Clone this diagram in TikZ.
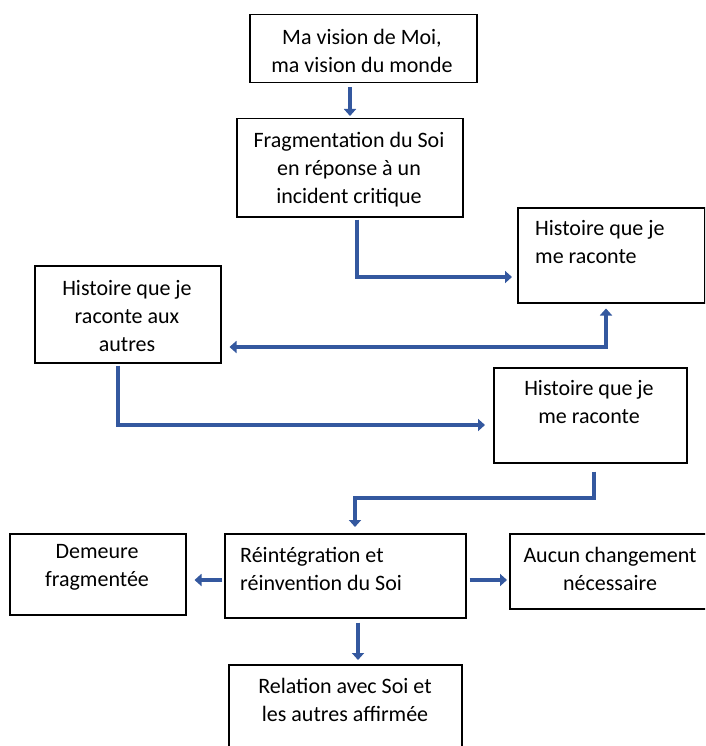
\documentclass[tikz,border=0pt]{standalone}
\usepackage{fontspec}
\setmainfont{Carlito}
\usetikzlibrary{arrows.meta}
\definecolor{arrowblue}{HTML}{34589F}
\tikzset{
  box/.style={draw=black, line width=1.5pt, fill=white, inner sep=0pt, anchor=north west},
  txt/.style={inner sep=0pt, font=\fontsize{22}{28}\selectfont},
  arr/.style={draw=arrowblue, line width=4.5pt, line join=miter, -{Triangle[length=7pt,width=12pt]}},
}
\begin{document}
\begin{tikzpicture}[x=1pt,y=-1pt]
\useasboundingbox (0,0) rectangle (705,746);
\fill[white] (0,0) rectangle (705,746);
\clip (0,0) rectangle (705,746);
% boxes
\node[box, minimum width=227pt, minimum height=68pt] (b1) at (249,14) {};
\node[box, minimum width=226pt, minimum height=98pt] (b2) at (236,118) {};
\node[box, minimum width=187pt, minimum height=95pt] (b3) at (517,207) {};
\node[box, minimum width=186pt, minimum height=97pt] (b4) at (34,265) {};
\node[box, minimum width=193pt, minimum height=95pt] (b5) at (493,367) {};
\node[box, minimum width=176pt, minimum height=81pt] (b6) at (9,533) {};
\node[box, minimum width=241pt, minimum height=84pt] (b7) at (224,533) {};
\node[box, minimum width=210pt, minimum height=75pt] (b8) at (509,533) {};
\node[box, minimum width=233pt, minimum height=100pt] (b9) at (228,664) {};
% texts
\node[txt, align=center] (t1) at (362,51) {Ma vision de Moi,\\ma vision du monde};
\node[txt, align=center] (t2) at (349,170) {Fragmentation du Soi\\en réponse à un\\incident critique};
\node[txt, align=left, anchor=west] (t3) at (535,242) {Histoire que je\\me raconte};
\node[txt, align=center] (t4) at (127,316) {Histoire que je\\raconte aux\\autres};
\node[txt, align=center] (t5) at (589,402) {Histoire que je\\me raconte};
\node[txt, align=center] (t6) at (97,567) {Demeure\\fragmentée};
\node[txt, align=left, anchor=west] (t7) at (240,569) {Réintégration et\\réinvention du Soi};
\node[txt, align=center] (t8) at (610,569) {Aucun changement\\nécessaire};
\node[txt, align=center] (t9) at (345,700) {Relation avec Soi et\\les autres affirmée};
% connector points
\coordinate (c2) at (357,277);
\coordinate (c3) at (606,347);
\coordinate (c4) at (118,425);
\coordinate (c5a) at (594,498);
\coordinate (c5b) at (355,498);
% connectors
\draw[arr] ([yshift=-4pt]b1.south -| 350,0) -- ([yshift=2pt]b2.north -| 350,0);
\draw[arr] ([yshift=-2pt]b2.south -| c2) -- (c2) -- ([xshift=-5pt]c2 -| b3.west);
\draw[arr, {Triangle[length=7pt,width=12pt]}-{Triangle[length=7pt,width=12pt]}] ([yshift=-5pt]b3.south -| c3) -- (c3) -- ([xshift=8pt]c3 -| b4.east);
\draw[arr] ([yshift=-2pt]b4.south -| c4) -- (c4) -- ([xshift=-8pt]c4 -| b5.west);
\draw[arr] ([yshift=-8pt]b5.south -| c5a) -- (c5a) -- (c5b) -- ([yshift=6pt]b7.north -| c5b);
\draw[arr] ([xshift=-2pt]b7.west |- 0,580) -- ([xshift=8pt]b6.east |- 0,580);
\draw[arr] ([xshift=3pt]b7.east |- 0,580) -- ([xshift=-2pt]b8.west |- 0,580);
\draw[arr] ([yshift=-4pt]b7.south -| 358,0) -- ([yshift=4pt]b9.north -| 358,0);
\end{tikzpicture}
\end{document}
